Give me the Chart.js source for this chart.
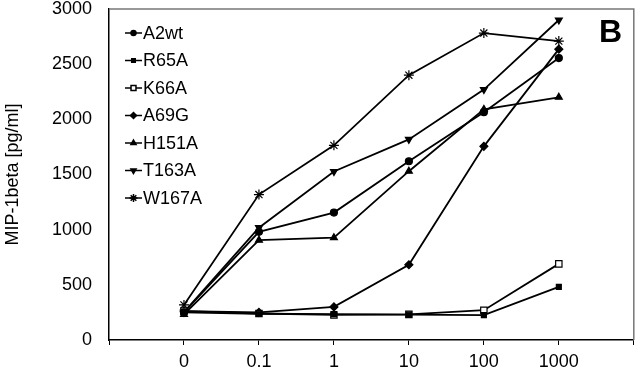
<!DOCTYPE html>
<html>
<head>
<meta charset="utf-8">
<script src="https://cdn.jsdelivr.net/npm/chart.js@4/dist/chart.umd.min.js"></script>
<style>
  html, body { margin: 0; padding: 0; background: #fff; }
  #wrap { width: 640px; height: 370px; position: relative; }
</style>
</head>
<body>
<div id="wrap"><canvas id="chart"></canvas></div>
<script>
// concentration categories
const doses = ['0', '0.1', '1', '10', '100', '1000'];
const yTicks = [0, 500, 1000, 1500, 2000, 2500, 3000];

// MIP-1beta [pg/ml] per mutant
const a2wt  = [250, 980, 1155, 1620, 2065, 2555];
const r65a  = [250, 238, 235, 230, 225, 482];
const k66a  = [262, 240, 227, 232, 270, 690];
const a69g  = [262, 250, 300, 682, 1755, 2636];
const h151a = [232, 905, 927, 1530, 2090, 2200];
const t163a = [252, 1018, 1527, 1818, 2270, 2900];
const w167a = [318, 1318, 1764, 2400, 2782, 2709];

const series = [
    { label: 'A2wt',  data: a2wt,  style: 'circle',   radius: 3.5, rot: 0,   fill: '#000' },
    { label: 'R65A',  data: r65a,  style: 'rect',     radius: 3.5, rot: 0,   fill: '#000' },
    { label: 'K66A',  data: k66a,  style: 'rect',     radius: 4.5, rot: 0,   fill: '#fff' },
    { label: 'A69G',  data: a69g,  style: 'rectRot',  radius: 4,   rot: 0,   fill: '#000' },
    { label: 'H151A', data: h151a, style: 'triangle', radius: 4,   rot: 0,   fill: '#000' },
    { label: 'T163A', data: t163a, style: 'triangle', radius: 4,   rot: 180, fill: '#000' },
    { label: 'W167A', data: w167a, style: 'star',     radius: 5,   rot: 0,   fill: '#000' }
];

const FONT = 'Arial, "Liberation Sans", sans-serif';

// Legend inside the plot, line + marker + name
const insideLegend = {
    id: 'insideLegend',
    afterDraw(chart) {
        const ctx = chart.ctx;
        ctx.save();
        series.forEach((s, i) => {
            const y = 33 + i * 27.5;
            ctx.strokeStyle = '#000';
            ctx.lineWidth = 1.5;
            ctx.beginPath();
            ctx.moveTo(125, y);
            ctx.lineTo(142, y);
            ctx.stroke();
            ctx.fillStyle = s.fill;
            Chart.helpers.drawPoint(ctx, {
                pointStyle: s.style, rotation: s.rot, radius: s.radius - 1, borderWidth: 1.2
            }, 133.5, y);
            ctx.fillStyle = '#000';
            ctx.font = '18px ' + FONT;
            ctx.textBaseline = 'middle';
            ctx.textAlign = 'left';
            ctx.fillText(s.label, 143, y + 1);
        });
        // panel letter
        ctx.font = 'bold 32px ' + FONT;
        ctx.textAlign = 'left';
        ctx.fillText('B', 599, 33);
        ctx.restore();
    }
};

// top and right frame of the plot
const frame = {
    id: 'frame',
    beforeDatasetsDraw(chart) {
        const a = chart.chartArea;
        const ctx = chart.ctx;
        ctx.save();
        ctx.strokeStyle = '#777';
        ctx.lineWidth = 1.5;
        ctx.beginPath();
        ctx.moveTo(a.left, a.top);
        ctx.lineTo(a.right, a.top);
        ctx.lineTo(a.right, a.bottom);
        ctx.stroke();
        ctx.restore();
    }
};

new Chart(document.getElementById('chart'), {
    type: 'line',
    data: {
        datasets: series.map(s => ({
            label: s.label,
            data: s.data.map((v, i) => ({ x: i, y: v })),
            borderColor: '#000',
            borderWidth: 1.8,
            pointStyle: s.style,
            pointRotation: s.rot,
            pointRadius: s.radius,
            pointBorderWidth: 1.2,
            pointBorderColor: '#000',
            pointBackgroundColor: s.fill,
            tension: 0
        }))
    },
    options: {
        responsive: true,
        maintainAspectRatio: false,
        animation: false,
        layout: { padding: { left: 0, right: 5, top: 9, bottom: 0 } },
        plugins: { legend: { display: false }, tooltip: { enabled: false } },
        scales: {
            x: {
                type: 'linear',
                min: -1,
                max: 6,
                afterBuildTicks(axis) {
                    axis.ticks = [-1, 0, 1, 2, 3, 4, 5, 6].map(v => ({ value: v }));
                },
                afterFit(axis) {
                    axis.height = 30;
                    axis.paddingLeft = 0;
                    axis.paddingRight = 0;
                },
                grid: { drawOnChartArea: false, color: '#000', tickLength: 5, lineWidth: 1 },
                border: { color: '#000', width: 1.5 },
                ticks: {
                    padding: 6,
                    color: '#000',
                    font: { size: 18, family: FONT },
                    maxRotation: 0,
                    callback: v => (v >= 0 && v < doses.length) ? doses[v] : ''
                }
            },
            y: {
                min: 0,
                max: 3000,
                afterBuildTicks(axis) {
                    axis.ticks = yTicks.map(v => ({ value: v }));
                },
                afterFit(axis) {
                    axis.width = 109;
                    axis.paddingTop = 0;
                    axis.paddingBottom = 0;
                },
                grid: { drawOnChartArea: false, drawTicks: false },
                border: { color: '#000', width: 1.5 },
                ticks: {
                    padding: 17,
                    color: '#000',
                    font: { size: 18, family: FONT },
                    callback: v => String(v)
                },
                title: {
                    display: true,
                    text: 'MIP-1beta [pg/ml]',
                    color: '#000',
                    font: { size: 18, family: FONT },
                    padding: { top: 2, bottom: 0 }
                }
            }
        }
    },
    plugins: [frame, insideLegend]
});
</script>
</body>
</html>
